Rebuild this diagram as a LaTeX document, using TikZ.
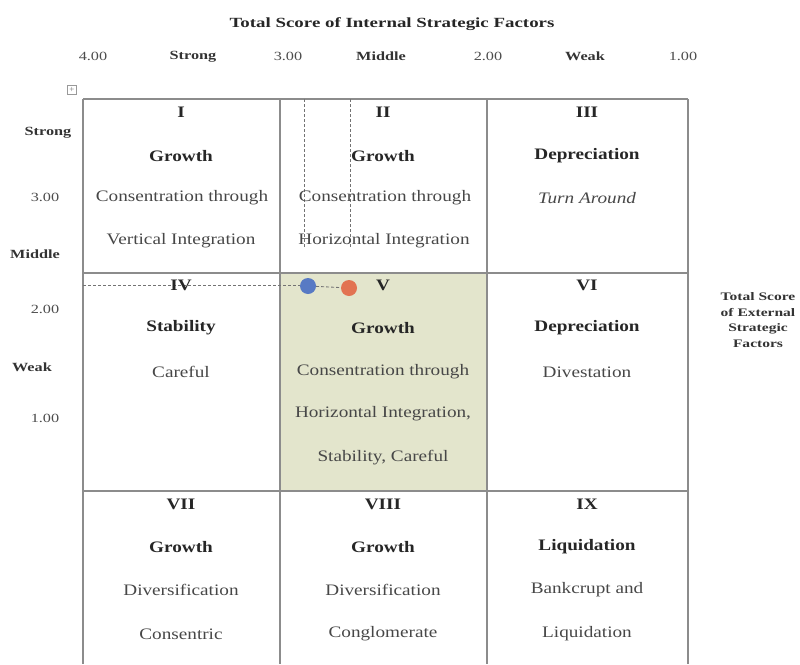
\documentclass[tikz,border=0pt]{standalone}
\usepackage{fontspec}
\setmainfont{Liberation Serif}
\definecolor{cellgreen}{RGB}{227,229,204}
\definecolor{dotblue}{RGB}{88,122,196}
\definecolor{dotred}{RGB}{226,115,82}
\begin{document}
\begin{tikzpicture}[x=1pt,y=-1pt,
  grid/.style={draw=black!45,line width=1.6pt},
  celltxt/.style={font=\fontsize{16}{18}\selectfont\addfontfeature{FakeStretch=1.2},text=black!72,inner sep=0pt},
  cellhead/.style={font=\fontsize{16}{18}\selectfont\bfseries\addfontfeature{FakeStretch=1.2},text=black!85,inner sep=0pt},
  axis/.style={font=\fontsize{12.5}{14}\selectfont\addfontfeature{FakeStretch=1.3},text=black!70,inner sep=0pt},
  axisb/.style={font=\fontsize{12.5}{14}\selectfont\bfseries\addfontfeature{FakeStretch=1.3},text=black!80,inner sep=0pt},
  guide/.style={draw=black!55,densely dashed,line width=0.9pt},
  dot/.style={circle,minimum size=16pt,inner sep=0pt}]
\useasboundingbox (0,0) rectangle (800,664);
% green cell
\fill[fill=cellgreen] (280,273) rectangle (487,491);
% grid
\draw[grid] (83,99) -- (688,99);
\draw[grid] (83,273) -- (688,273);
\draw[grid] (83,491) -- (688,491);
\draw[grid] (83,99) -- (83,664);
\draw[grid] (280,99) -- (280,664);
\draw[grid] (487,99) -- (487,664);
\draw[grid] (688,99) -- (688,664);
% handle
\node[draw=black!40,line width=0.5pt,minimum size=9pt,inner sep=0pt,font=\fontsize{9}{9}\selectfont,text=black!55] (h) at (72,90) {+};
% titles
\node[font=\fontsize{14}{16}\selectfont\bfseries\addfontfeature{FakeStretch=1.35},text=black!85] (t) at (392,24) {Total Score of Internal Strategic Factors};
\node[axis] (a4) at (93,56) {4.00};
\node[axisb] (as) at (193,57) {Strong};
\node[axis] (a3) at (288,56) {3.00};
\node[axisb] (am) at (381,56) {Middle};
\node[axis] (a2) at (488,56) {2.00};
\node[axisb] (aw) at (585,56) {Weak};
\node[axis] (a1) at (683,56) {1.00};
\node[axisb] (ls) at (48,133) {Strong};
\node[axis] (l3) at (45,197) {3.00};
\node[axisb] (lm) at (35,254) {Middle};
\node[axis] (l2) at (45,309) {2.00};
\node[axisb] (lw) at (32,367) {Weak};
\node[axis] (l1) at (45,418) {1.00};
\node[font=\fontsize{11.5}{15.5}\selectfont\bfseries\addfontfeature{FakeStretch=1.35},text=black!80,align=center] (rt) at (758,320) {Total Score\\of External\\Strategic\\Factors};
% guide lines
\draw[guide] (304,99) -- (304,248);
\draw[guide] (350,99) -- (350,248);
\draw[guide] (83,285) -- (300,285);
% cell I
\node[cellhead] (c1a) at (181,112) {I};
\node[cellhead] (c1b) at (181,156) {Growth};
\node[celltxt] (c1c) at (182,198) {Consentration through};
\node[celltxt] (c1d) at (181,241) {Vertical Integration};
% cell II
\node[cellhead] (c2a) at (383,112) {II};
\node[cellhead] (c2b) at (383,156) {Growth};
\node[celltxt] (c2c) at (385,198) {Consentration through};
\node[celltxt] (c2d) at (384,241) {Horizontal Integration};
% cell III
\node[cellhead] (c3a) at (587,112) {III};
\node[cellhead] (c3b) at (587,156) {Depreciation};
\node[celltxt,font=\fontsize{16}{18}\selectfont\itshape\addfontfeature{FakeStretch=1.2}] (c3c) at (587,198) {Turn Around};
% cell IV
\node[cellhead] (c4a) at (181,285) {IV};
\node[cellhead] (c4b) at (181,328) {Stability};
\node[celltxt] (c4c) at (181,372) {Careful};
% cell V
\node[dot,fill=dotblue] (bd) at (308,286) {};
\node[dot,fill=dotred] (rd) at (349,288) {};
\draw[guide] (bd) -- (rd);
\node[cellhead] (c5a) at (383,285) {V};
\node[cellhead] (c5b) at (383,328) {Growth};
\node[celltxt] (c5c) at (383,372) {Consentration through};
\node[celltxt] (c5d) at (383,414) {Horizontal Integration,};
\node[celltxt] (c5e) at (383,458) {Stability, Careful};
% cell VI
\node[cellhead] (c6a) at (587,285) {VI};
\node[cellhead] (c6b) at (587,328) {Depreciation};
\node[celltxt] (c6c) at (587,372) {Divestation};
% row 3
\node[cellhead] (c7a) at (181,504) {VII};
\node[cellhead] (c7b) at (181,547) {Growth};
\node[celltxt] (c7c) at (181,590) {Diversification};
\node[celltxt] (c7d) at (181,634) {Consentric};
\node[cellhead] (c8a) at (383,504) {VIII};
\node[cellhead] (c8b) at (383,547) {Growth};
\node[celltxt] (c8c) at (383,590) {Diversification};
\node[celltxt] (c8d) at (383,634) {Conglomerate};
\node[cellhead] (c9a) at (587,504) {IX};
\node[cellhead] (c9b) at (587,547) {Liquidation};
\node[celltxt] (c9c) at (587,590) {Bankcrupt and};
\node[celltxt] (c9d) at (587,634) {Liquidation};
\end{tikzpicture}
\end{document}
